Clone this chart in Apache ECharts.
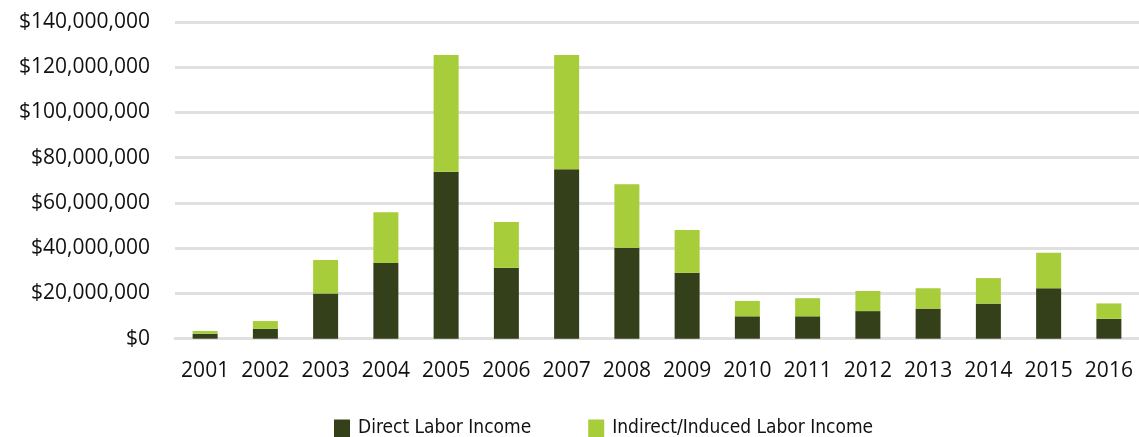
<!DOCTYPE html>
<html>
<head>
<meta charset="utf-8">
<script src="https://cdn.jsdelivr.net/npm/echarts@6/dist/echarts.min.js"></script>
<style>
  html, body { margin: 0; padding: 0; background: #fff; }
  #chart { width: 1139px; height: 437px; }
</style>
</head>
<body>
<div id="chart"></div>
<script>
const years = ['2001', '2002', '2003', '2004', '2005', '2006', '2007', '2008',
    '2009', '2010', '2011', '2012', '2013', '2014', '2015', '2016'];
// direct labor income, $
const directIncome = [2200000, 4400000, 20000000, 33500000, 73800000, 31400000, 74900000, 40200000,
    29100000, 9900000, 9900000, 12200000, 13300000, 15500000, 22300000, 8800000];
// indirect/induced labor income, $ (stacked on top)
const indirectIncome = [1200000, 3400000, 14800000, 22400000, 51600000, 20200000, 50500000, 28100000,
    19000000, 6800000, 8000000, 8900000, 9000000, 11300000, 15700000, 6800000];
const yTicks = [0, 140000000, 20000000];

const chart = echarts.init(document.getElementById('chart'));

const fmtMoney = v => '$' + v.toString().replace(/\B(?=(\d{3})+(?!\d))/g, ',');

chart.setOption({
    animation: false,
    grid: { left: 175, top: 22, width: 968, height: 316.7 },
    legend: {
        left: 329,
        top: 414,
        icon: 'rect',
        itemWidth: 16,
        itemHeight: 18,
        itemGap: 57,
        textStyle: {
            fontFamily: '"DejaVu Sans Condensed", sans-serif',
            fontSize: 19,
            color: '#111',
            padding: [0, 0, 0, 3],
        },
        data: ['Direct Labor Income', 'Indirect/Induced Labor Income'],
    },
    xAxis: {
        type: 'category',
        data: years,
        axisTick: { show: false },
        axisLine: { lineStyle: { color: '#e0e0e0', width: 3 } },
        axisLabel: {
            interval: 0,
            hideOverlap: false,
            margin: 22,
            color: '#111',
            fontFamily: '"Open Sans", sans-serif',
            fontSize: 21,
        },
    },
    yAxis: {
        type: 'value',
        min: yTicks[0],
        max: yTicks[1],
        interval: yTicks[2],
        axisLine: { show: false },
        axisTick: { show: false },
        splitLine: { lineStyle: { color: '#e0e0e0', width: 3 } },
        axisLabel: {
            margin: 25,
            color: '#111',
            fontFamily: '"Open Sans", sans-serif',
            fontSize: 21,
            formatter: fmtMoney,
        },
    },
    series: [
        {
            name: 'Direct Labor Income',
            type: 'bar',
            stack: 'income',
            barWidth: 25,
            itemStyle: { color: '#334019' },
            data: directIncome,
        },
        {
            name: 'Indirect/Induced Labor Income',
            type: 'bar',
            stack: 'income',
            barWidth: 25,
            itemStyle: { color: '#a8cd3a' },
            data: indirectIncome,
        },
    ],
});
</script>
</body>
</html>
